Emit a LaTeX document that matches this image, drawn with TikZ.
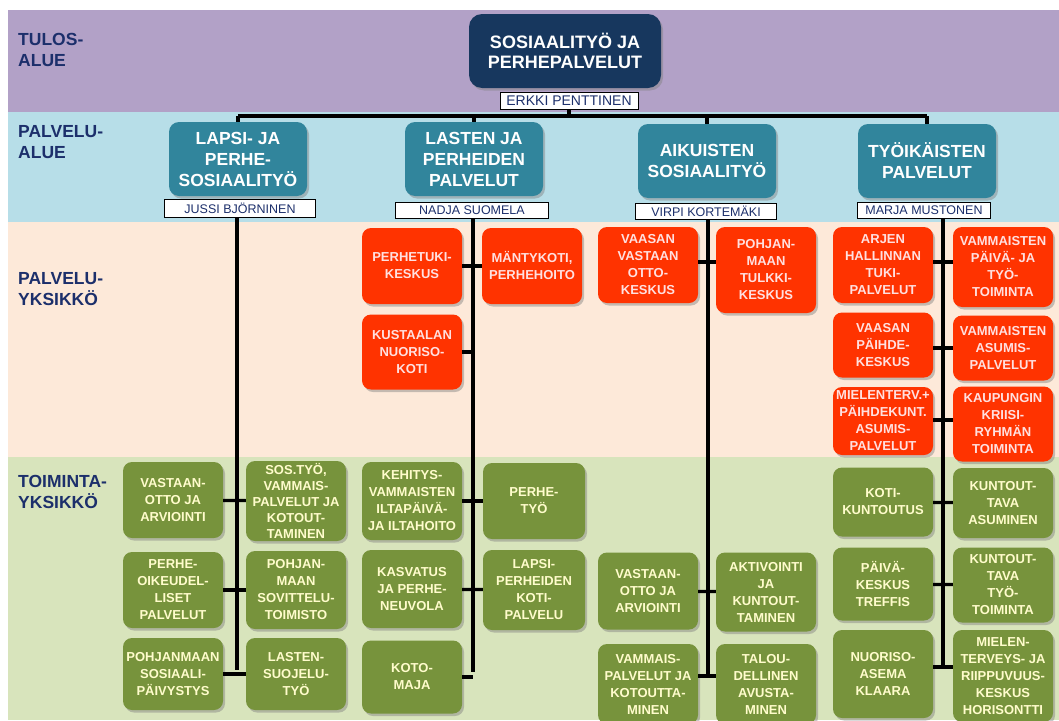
\documentclass[tikz,border=0pt]{standalone}
\usepackage{fontspec}
\setmainfont{Liberation Sans}
\usetikzlibrary{shadows}
\definecolor{tulosband}{HTML}{B2A1C7}
\definecolor{alueband}{HTML}{B7DEE8}
\definecolor{yksband}{HTML}{FDE9D9}
\definecolor{toimband}{HTML}{D8E4BC}
\definecolor{navy}{HTML}{17375E}
\definecolor{labelblue}{HTML}{1C2F6B}
\definecolor{teal}{HTML}{31859C}
\definecolor{yksred}{HTML}{FF3300}
\definecolor{toimgreen}{HTML}{77933C}

\begin{document}
\begin{tikzpicture}[x=1pt, y=-1pt,
  band/.style={anchor=north west, inner sep=0pt, align=left, text=labelblue,
    font=\bfseries\fontsize{17.5}{21}\selectfont},
  shade/.style={drop shadow={shadow xshift=2pt, shadow yshift=-2.5pt, opacity=.45}},
  box/.style={shade, rounded corners=9pt, align=center, inner sep=1pt,
    minimum width=100pt, minimum height=76pt, font=\bfseries\fontsize{13}{17}\selectfont},
  yks/.style={box, fill=yksred, text=white!88!red},
  toim/.style={box, fill=toimgreen, text=white!80!yellow},
  alue/.style={shade, rounded corners=10pt, fill=teal, text=white, align=center,
    minimum width=138pt, minimum height=74pt, font=\bfseries\fontsize{17.5}{21}\selectfont},
  person/.style={draw=black, fill=white, text=labelblue, inner sep=0pt, line width=.7pt,
    minimum height=16pt, font=\fontsize{12.5}{14}\selectfont},
  conn/.style={line width=3.2pt, black}]
\useasboundingbox (0,0) rectangle (1059,720);
\clip (0,0) rectangle (1059,720);

\fill[tulosband] (8,10) rectangle (1059,112);
\fill[alueband] (8,112) rectangle (1059,222);
\fill[yksband] (8,222) rectangle (1059,457);
\fill[toimband] (8,457) rectangle (1059,720);

\node[band] (lblTulos) at (18,33) {TULOS-\\ALUE};
\node[band] (lblAlue) at (18,125) {PALVELU-\\ALUE};
\node[band] (lblYks) at (18,272) {PALVELU-\\YKSIKKÖ};
\node[band] (lblToim) at (18,475) {TOIMINTA-\\YKSIKKÖ};

% tulosalue
\coordinate (barL) at (238,116);
\coordinate (barR) at (927,116);
\draw[conn] (barL) -- (barR);
\node[shade, rounded corners=13pt, fill=navy, text=white, align=center,
  minimum width=192pt, minimum height=74pt, font=\bfseries\fontsize{18}{20}\selectfont]
  (top) at (565,51) {SOSIAALITYÖ JA\\PERHEPALVELUT};
\node[person, minimum width=138pt, minimum height=17pt, font=\fontsize{14}{16}\selectfont]
  (erkki) at (569,100.5) {ERKKI PENTTINEN};
\draw[conn] (erkki.south) -- (erkki.south |- barL);

% palvelualueet
\node[alue] (lapsi) at (238,159) {LAPSI- JA\\PERHE-\\SOSIAALITYÖ};
\node[alue] (lasten) at (474,159) {LASTEN JA\\PERHEIDEN\\PALVELUT};
\node[alue] (aikuis) at (707,161) {AIKUISTEN\\SOSIAALITYÖ};
\node[alue] (tyoik) at (927,161) {TYÖIKÄISTEN\\PALVELUT};
\foreach \a in {lapsi,lasten,aikuis,tyoik}
  \draw[conn] (\a.north) -- (\a.north |- barL);

\node[person, minimum width=151pt, minimum height=18pt] (jussi) at (240,208) {JUSSI BJÖRNINEN};
\node[person, minimum width=153pt] (nadja) at (472,210) {NADJA SUOMELA};
\node[person, minimum width=141pt] (virpi) at (706,211.5) {VIRPI KORTEMÄKI};
\node[person, minimum width=133pt] (marja) at (924,210.5) {MARJA MUSTONEN};

% vertical lines behind the units
\draw[conn] (jussi.south -| 237,0) -- (237,670);
\draw[conn] (nadja.south -| 473,0) -- (473,672);
\draw[conn] (virpi.south -| 708,0) -- (708,676);
\draw[conn] (marja.south -| 943,0) -- (943,667);

% lapsi- ja perhesosiaalityo
\node[toim] (vastaan1) at (173,500) {VASTAAN-\\OTTO JA\\ARVIOINTI};
\node[toim, minimum height=80pt, font=\bfseries\fontsize{13}{16}\selectfont]
  (sostyo) at (296,501) {SOS.TYÖ,\\VAMMAIS-\\PALVELUT JA\\KOTOUT-\\TAMINEN};
\node[toim] (perheoik) at (173,590) {PERHE-\\OIKEUDEL-\\LISET\\PALVELUT};
\node[toim, minimum height=78pt] (sovittelu) at (296,590) {POHJAN-\\MAAN\\SOVITTELU-\\TOIMISTO};
\node[toim, minimum height=72pt] (paivystys) at (173,674) {POHJANMAAN\\SOSIAALI-\\PÄIVYSTYS};
\node[toim, minimum height=72pt] (lastensuo) at (296,674) {LASTEN-\\SUOJELU-\\TYÖ};
\draw[conn] (vastaan1) -- (sostyo);
\draw[conn] (perheoik) -- (sovittelu);
\draw[conn] (paivystys) -- (lastensuo);

% lasten ja perheiden palvelut
\node[yks] (perhetuki) at (412,266) {PERHETUKI-\\KESKUS};
\node[yks] (mantykoti) at (532,266) {MÄNTYKOTI,\\PERHEHOITO};
\node[yks, minimum height=75pt] (kustaala) at (412,352) {KUSTAALAN\\NUORISO-\\KOTI};
\node[toim, minimum height=78pt] (kehitys) at (412,501) {KEHITYS-\\VAMMAISTEN\\ILTAPÄIVÄ-\\JA ILTAHOITO};
\node[toim, minimum width=102pt] (perhetyo) at (534,501) {PERHE-\\TYÖ};
\node[toim, minimum height=78pt] (kasvatus) at (412,589) {KASVATUS\\JA PERHE-\\NEUVOLA};
\node[toim, minimum width=102pt, minimum height=80pt] (kotipalv) at (534,590) {LAPSI-\\PERHEIDEN\\KOTI-\\PALVELU};
\node[toim, minimum height=73pt] (kotomaja) at (412,677) {KOTO-\\MAJA};
\draw[conn] (perhetuki) -- (mantykoti);
\draw[conn] (kustaala.east) -- (kustaala.east -| 473,0);
\draw[conn] (kehitys) -- (perhetyo);
\draw[conn] (kasvatus) -- (kotipalv);
\draw[conn] (kotomaja.east) -- (kotomaja.east -| 473,0);

% aikuisten sosiaalityo
\node[yks] (vastkeskus) at (648,265) {VAASAN\\VASTAAN\\OTTO-\\KESKUS};
\node[yks, minimum height=86pt] (tulkki) at (766,270) {POHJAN-\\MAAN\\TULKKI-\\KESKUS};
\node[toim, minimum height=77pt] (vastaan2) at (648,591) {VASTAAN-\\OTTO JA\\ARVIOINTI};
\node[toim, minimum height=79pt] (aktiv) at (766,592) {AKTIVOINTI\\JA\\KUNTOUT-\\TAMINEN};
\node[toim, minimum height=80pt] (vammpalv) at (648,684) {VAMMAIS-\\PALVELUT JA\\KOTOUTTA-\\MINEN};
\node[toim, minimum height=80pt] (talous) at (766,684) {TALOU-\\DELLINEN\\AVUSTA-\\MINEN};
\draw[conn] (vastkeskus.east |- 0,262) -- (tulkki.west |- 0,262);
\draw[conn] (vastaan2) -- (aktiv);
\draw[conn] (vammpalv.east |- 0,676) -- (talous.west |- 0,676);

% tyoikaisten palvelut
\node[yks] (arjen) at (883,265) {ARJEN\\HALLINNAN\\TUKI-\\PALVELUT};
\node[yks, minimum height=80pt] (vampaiva) at (1003,267) {VAMMAISTEN\\PÄIVÄ- JA\\TYÖ-\\TOIMINTA};
\node[yks, minimum height=65pt] (paihde) at (883,345) {VAASAN\\PÄIHDE-\\KESKUS};
\node[yks, minimum height=65pt] (vamasum) at (1003,348) {VAMMAISTEN\\ASUMIS-\\PALVELUT};
\node[yks, minimum height=68pt] (mielasum) at (883,421) {MIELENTERV.+\\PÄIHDEKUNT.\\ASUMIS-\\PALVELUT};
\node[yks, minimum height=75pt] (kriisi) at (1003,424) {KAUPUNGIN\\KRIISI-\\RYHMÄN\\TOIMINTA};
\node[toim, minimum height=69pt] (kotikunt) at (883,502) {KOTI-\\KUNTOUTUS};
\node[toim, minimum height=70pt] (kuntasum) at (1003,503) {KUNTOUT-\\TAVA\\ASUMINEN};
\node[toim, minimum height=73pt] (treffis) at (883,584) {PÄIVÄ-\\KESKUS\\TREFFIS};
\node[toim, minimum height=75pt] (kunttyo) at (1003,585) {KUNTOUT-\\TAVA\\TYÖ-\\TOIMINTA};
\node[toim, minimum height=88pt] (klaara) at (883,674) {NUORISO-\\ASEMA\\KLAARA};
\node[toim, minimum height=92pt] (horisontti) at (1003,676) {MIELEN-\\TERVEYS- JA\\RIIPPUVUUS-\\KESKUS\\HORISONTTI};
\draw[conn] (arjen.east |- 0,262) -- (vampaiva.west |- 0,262);
\draw[conn] (paihde.east |- 0,348) -- (vamasum.west |- 0,348);
\draw[conn] (mielasum.east |- 0,420) -- (kriisi.west |- 0,420);
\draw[conn] (kotikunt) -- (kuntasum);
\draw[conn] (treffis) -- (kunttyo);
\draw[conn] (klaara.east |- 0,667) -- (horisontti.west |- 0,667);
\end{tikzpicture}
\end{document}
